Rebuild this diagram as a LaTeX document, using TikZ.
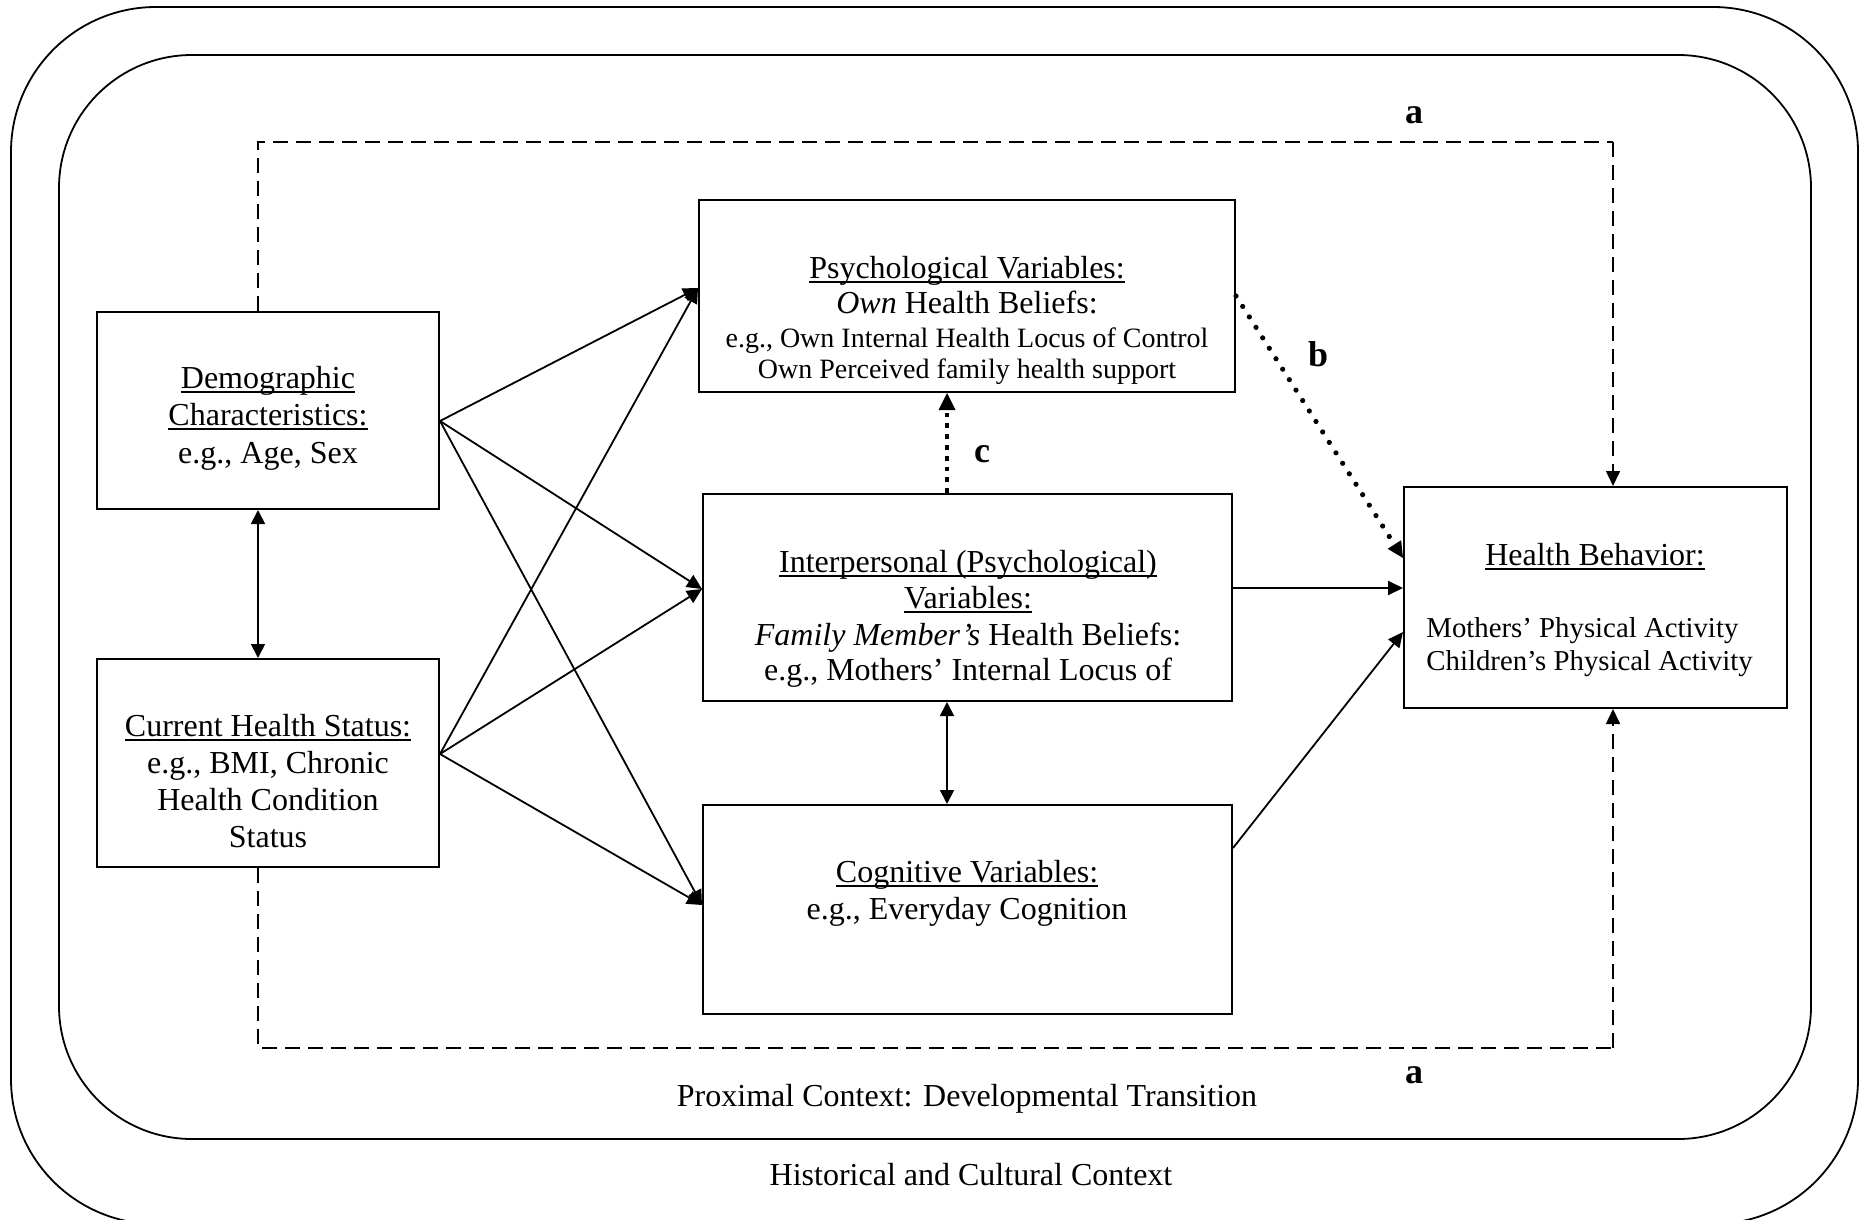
\documentclass[tikz,border=0pt]{standalone}
\usepackage{fontspec}
\setmainfont{Liberation Serif}
\usetikzlibrary{arrows.meta}

% underline drawn just below the baseline, as in word-processor output
\newcommand{\ulbox}[1]{\leavevmode\setbox0=\hbox{#1}\rlap{\rule[-0.16em]{\wd0}{0.055em}}\box0}

\begin{document}
\begin{tikzpicture}[x=0.5pt,y=-0.5pt,
  box/.style={draw, line width=1pt, inner sep=0pt},
  lbl/.style={anchor=base, inner sep=0pt, font=\fontsize{16}{18.5}\selectfont},
  sml/.style={anchor=base, inner sep=0pt, font=\fontsize{14}{16}\selectfont},
  outc/.style={anchor=base west, inner sep=0pt, font=\fontsize{14.4}{16.5}\selectfont},
  tag/.style={anchor=base, inner sep=0pt, font=\fontsize{18}{20}\selectfont\bfseries},
  conn/.style={line width=0.9pt, -{Triangle[length=7.5pt,width=7pt]}},
  twoway/.style={line width=0.9pt, {Triangle[length=7pt,width=7pt]}-{Triangle[length=7pt,width=7pt]}},
  dashline/.style={line width=0.8pt, dash pattern=on 7.5pt off 4pt},
  dotarrow/.style={line width=2.6pt, line cap=round, dash pattern=on 0pt off 6.2pt,
    -{Triangle[length=8pt,width=8pt,line width=0pt]}},
  sqarrow/.style={line width=2.4pt, dash pattern=on 2.4pt off 3pt,
    -{Triangle[length=8.5pt,width=8.5pt,line width=0pt]}},
  ctx/.style={line width=0.9pt}
]
\useasboundingbox (0,0) rectangle (1868,1220);
\clip (0,0) rectangle (1868,1220);

% nested contexts
\draw[ctx, rounded corners=72.5pt] (11,7) rectangle (1858,1224);
\draw[ctx, rounded corners=66.5pt] (59,55) rectangle (1811,1139);

% boxes
\node[box, minimum width=171pt,   minimum height=98.5pt]  (demo)  at (268,410.5) {};
\node[box, minimum width=171pt,   minimum height=104pt]   (curr)  at (268,763) {};
\node[box, minimum width=268pt,   minimum height=96pt]    (psych) at (967,296) {};
\node[box, minimum width=264.5pt, minimum height=103.5pt] (inter) at (967.5,597.5) {};
\node[box, minimum width=264.5pt, minimum height=104.5pt] (cogn)  at (967.5,909.5) {};
\node[box, minimum width=191.5pt, minimum height=110.5pt] (behav) at (1595.5,597.5) {};

% box texts
\node[lbl] (demo1) at (268,388) {\ulbox{Demographic}};
\node[lbl] (demo2) at (268,425) {\ulbox{Characteristics:}};
\node[lbl] (demo3) at (268,463) {e.g., Age, Sex};

\node[lbl] (curr1) at (268,736) {\ulbox{Current Health Status:}};
\node[lbl] (curr2) at (268,773) {e.g., BMI, Chronic};
\node[lbl] (curr3) at (268,810) {Health Condition};
\node[lbl] (curr4) at (268,847) {Status};

\node[lbl] (psych1) at (967,278) {\ulbox{Psychological Variables:}};
\node[lbl] (psych2) at (967,313) {\textit{Own} Health Beliefs:};
\node[sml] (psych3) at (967,347) {e.g., Own Internal Health Locus of Control};
\node[sml] (psych4) at (967,378) {Own Perceived family health support};

\node[lbl] (inter1) at (968,572) {\ulbox{Interpersonal (Psychological)}};
\node[lbl] (inter2) at (968,608) {\ulbox{Variables:}};
\node[lbl] (inter3) at (968,645) {\textit{Family Member’s} Health Beliefs:};
\node[lbl] (inter4) at (968,680) {e.g., Mothers’ Internal Locus of};

\node[lbl] (cogn1) at (967,882) {\ulbox{Cognitive Variables:}};
\node[lbl] (cogn2) at (967,919) {e.g., Everyday Cognition};

\node[lbl] (behav1) at (1595,565) {\ulbox{Health Behavior:}};
\node[outc] (behav2) at (1426,637) {Mothers’ Physical Activity};
\node[outc] (behav3) at (1426,670) {Children’s Physical Activity};

% context captions
\node[lbl] (prox) at (967,1106) {Proximal Context: Developmental Transition};
\node[lbl] (hist) at (971,1185) {Historical and Cultural Context};

% path tags
\node[tag] (tagA1) at (1414,124) {a};
\node[tag] (tagA2) at (1414,1083) {a};
\node[tag] (tagB)  at (1318,366) {b};
\node[tag] (tagC)  at (982,462) {c};

% reference levels for connector end points
\coordinate (yD) at (0,421);
\coordinate (yH) at (0,754);
\coordinate (yP) at (0,288);
\coordinate (yI) at (0,589);
\coordinate (yC) at (0,905);
\coordinate (yIB) at (0,588);
\coordinate (yCs) at (0,848);
\coordinate (yCt) at (0,632);
\coordinate (yBt) at (0,558);
\coordinate (xL) at (258,0);
\coordinate (xM) at (947,0);
\coordinate (topL) at (258,142);
\coordinate (topR) at (1613,142);
\coordinate (botL) at (258,1048);
\coordinate (botR) at (1613,1048);

% predictors to mediators
\draw[conn] (demo.east |- yD) -- (psych.west |- yP);
\draw[conn] (demo.east |- yD) -- (inter.west |- yI);
\draw[conn] (demo.east |- yD) -- (cogn.west |- yC);
\draw[conn] (curr.east |- yH) -- (psych.west |- yP);
\draw[conn] (curr.east |- yH) -- (inter.west |- yI);
\draw[conn] (curr.east |- yH) -- (cogn.west |- yC);

% mediators to outcome
\draw[conn] (inter.east |- yIB) -- (behav.west |- yIB);
\draw[conn] (cogn.east |- yCs) -- (behav.west |- yCt);
\draw[dotarrow] (psych.east) -- (behav.west |- yBt);
\draw[sqarrow] (inter.north -| xM) -- (psych.south -| xM);

% associations
\draw[twoway] (demo.south -| xL) -- (curr.north -| xL);
\draw[twoway] (inter.south -| xM) -- (cogn.north -| xM);

% direct paths (a)
\draw[dashline] (demo.north -| xL) -- (topL) -- (topR);
\draw[dashline, -{Triangle[length=7.5pt,width=7pt]}] (topR) -- (behav.north -| topR);
\draw[dashline] (curr.south -| xL) -- (botL) -- (botR);
\draw[dashline, -{Triangle[length=7.5pt,width=7pt]}] (botR) -- (behav.south -| botR);
\end{tikzpicture}
\end{document}
